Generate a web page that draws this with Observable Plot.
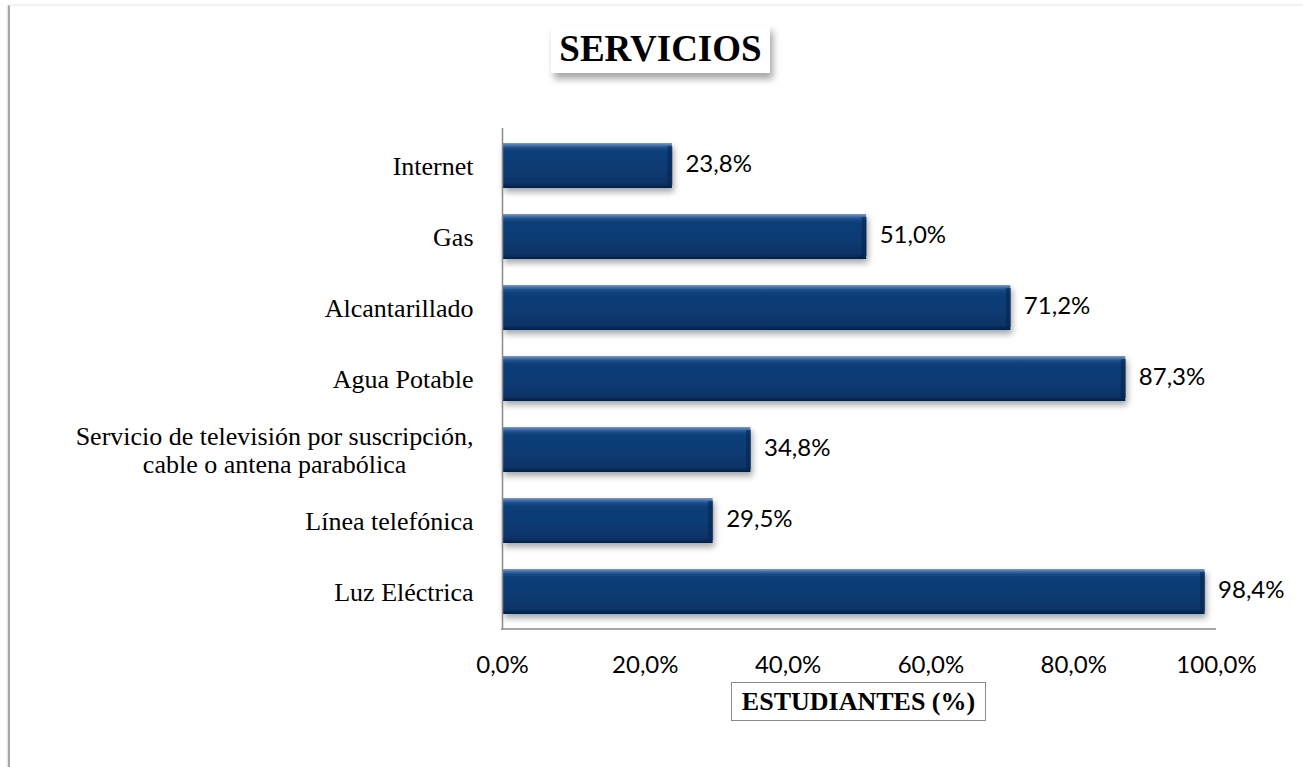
<!DOCTYPE html>
<html>
<head>
<meta charset="utf-8">
<script src="https://cdn.jsdelivr.net/npm/d3@7"></script>
<script src="https://cdn.jsdelivr.net/npm/@observablehq/plot@0.6"></script>
<style>
  html, body { margin: 0; padding: 0; background: #fff; }
  #wrap { position: relative; width: 1303px; height: 767px; overflow: hidden; font-family: Lato, sans-serif; }
  #frame { position: absolute; left: 8px; top: 5px; right: -10px; bottom: -10px;
           border-left: 2px solid #a8a8a8; border-top: 1px solid #f0f0f0;
           box-shadow: -1px 0 2px rgba(0,0,0,0.12); }
  #title { position: absolute; left: 551px; top: 25px; width: 219px; height: 48px; background: #fff;
           box-shadow: 3px 6px 7px rgba(0,0,0,0.35);
           font-family: "Liberation Serif", "Times New Roman", serif; font-weight: bold; font-size: 37px;
           line-height: 48px; text-align: center; color: #000; }
  #xlabel { position: absolute; left: 731px; top: 682px; width: 253px; height: 37px; background: #fff;
            border: 1.5px solid #8a8a8a;
            font-family: "Liberation Serif", "Times New Roman", serif; font-weight: bold; font-size: 26px;
            line-height: 38px; text-align: center; color: #000; }
  #chart { position: absolute; left: 0; top: 0; }
</style>
</head>
<body>
<div id="wrap">
  <div id="frame"></div>
  <div id="chart"></div>
  <div id="title">SERVICIOS</div>
  <div id="xlabel">ESTUDIANTES (%)</div>
</div>
<script>
// ---- data ----
const categories = [
  "Internet",
  "Gas",
  "Alcantarillado",
  "Agua Potable",
  "Servicio de televisión por suscripción,\ncable o antena parabólica",
  "Línea telefónica",
  "Luz Eléctrica"
];
const values = [23.8, 51.0, 71.2, 87.3, 34.8, 29.5, 98.4];
const xTicks = [0, 20, 40, 60, 80, 100];

const data = categories.map((c, i) => ({category: c, value: values[i]}));
const fmt = d => d.toFixed(1).replace(".", ",") + "%";

const chart = Plot.plot({
  width: 1303,
  height: 767,
  marginLeft: 502,
  marginRight: 87,
  marginTop: 128,
  marginBottom: 138,
  style: {background: "transparent", fontFamily: "Lato, sans-serif", color: "#000"},
  x: {domain: [0, 100]},
  y: {domain: categories, paddingInner: 0.37, paddingOuter: 0.185},
  marks: [
    Plot.barX(data, {x: "value", y: "category", fill: "url(#barGrad)"}),
    Plot.tickX(data, {x: "value", y: "category", stroke: "#05254d", strokeWidth: 5, dx: -2.5, insetTop: 3, insetBottom: 3, strokeOpacity: 0.55}),
    Plot.ruleX([0], {stroke: "#8a8a8a", strokeWidth: 1.5}),
    Plot.text(data, {x: "value", y: "category", text: d => fmt(d.value), textAnchor: "start", dx: 13, dy: -2, fontSize: 24, fontFamily: "Lato, sans-serif", fill: "#000"}),
    Plot.axisX({ticks: xTicks, tickSize: 0, tickPadding: 26, tickFormat: fmt, fontSize: 24, fontFamily: "Lato, sans-serif", fill: "#000", label: null}),
    Plot.axisY({tickSize: 0, tickPadding: 29, fontSize: 26, fontFamily: "'Liberation Serif', 'Times New Roman', serif", lineHeight: 1.08, fill: "#000", label: null})
  ]
});

document.getElementById("chart").appendChild(chart);

const svg = d3.select(chart);
const defs = svg.insert("defs", ":first-child");
const g = defs.append("linearGradient").attr("id", "barGrad").attr("x1", 0).attr("y1", 0).attr("x2", 0).attr("y2", 1);
[["0%", "#7a9dcb"], ["5%", "#4673ad"], ["11%", "#1b4d89"], ["18%", "#0f3f79"], ["60%", "#0c3a72"], ["88%", "#0a3468"], ["100%", "#041f43"]]
  .forEach(([o, c]) => g.append("stop").attr("offset", o).attr("stop-color", c));
const f = defs.append("filter").attr("id", "barShadow").attr("x", "-5%").attr("y", "-20%").attr("width", "115%").attr("height", "160%");
f.append("feDropShadow").attr("dx", 2).attr("dy", 4).attr("stdDeviation", 3).attr("flood-color", "#000").attr("flood-opacity", 0.35);
svg.selectAll('g[aria-label="bar"]').attr("filter", "url(#barShadow)");

// bottom axis line drawn from the library's scales
const xr = chart.scale("x").range;
const yr = chart.scale("y").range;
svg.append("line")
  .attr("x1", Math.min(...xr) - 1).attr("x2", Math.max(...xr))
  .attr("y1", Math.max(...yr)).attr("y2", Math.max(...yr))
  .attr("stroke", "#8a8a8a").attr("stroke-width", 1.5);

// center multi-line category labels within their block
svg.selectAll('g[aria-label="y-axis tick label"] text').each(function() {
  const tspans = this.querySelectorAll("tspan");
  if (tspans.length > 1) {
    let w = 0;
    tspans.forEach(t => { w = Math.max(w, t.getComputedTextLength()); });
    this.setAttribute("text-anchor", "middle");
    const tr = this.getAttribute("transform") || "";
    this.setAttribute("transform", tr + ` translate(${-w / 2},0)`);
  }
});
</script>
</body>
</html>
